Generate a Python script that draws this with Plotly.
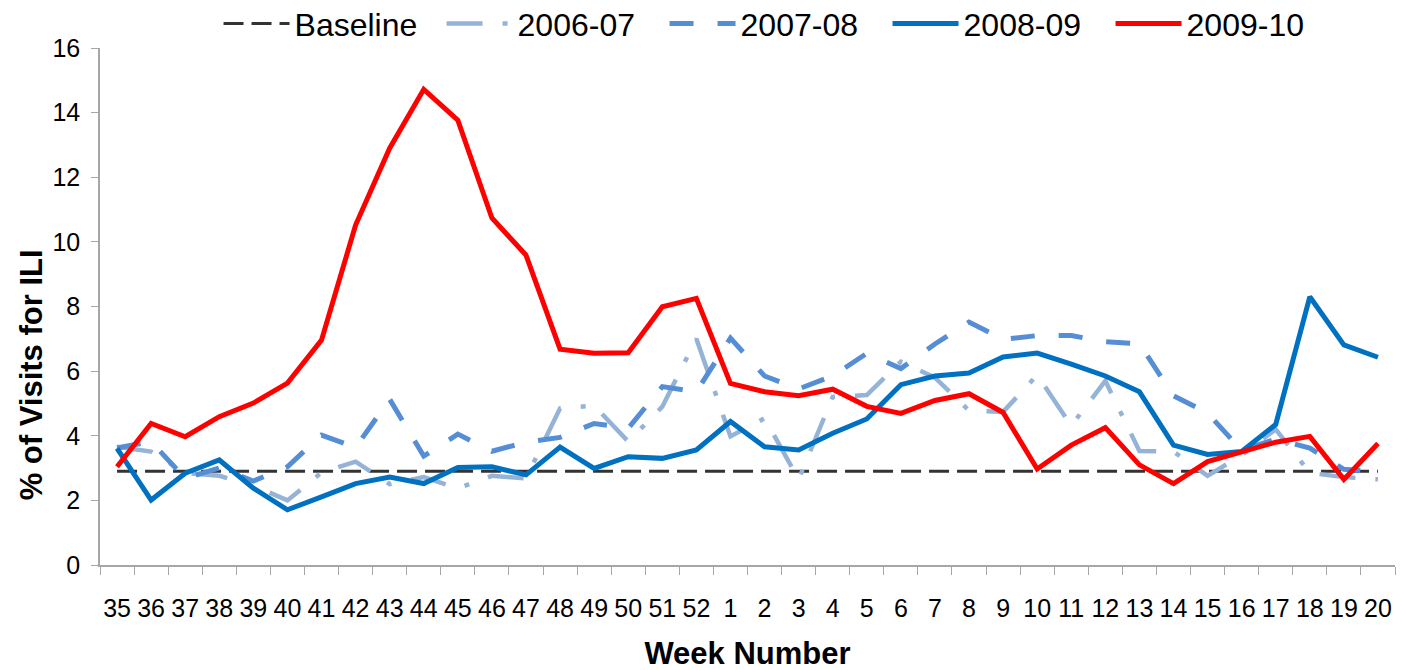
import plotly.graph_objects as go

weeks = [str(w) for w in list(range(35, 53)) + list(range(1, 21))]

baseline = [2.9] * len(weeks)

s2006_07 = [3.66, 3.51, 2.85, 2.76, 2.46, 2.00, 2.86, 3.20, 2.50, 2.72, 2.37, 2.76, 2.68,
            4.85, 4.93, 3.82, 4.90, 7.00, 3.98, 4.54, 2.65, 5.20, 5.26, 6.29, 5.80, 4.78,
            4.74, 5.88, 4.31, 5.70, 3.53, 3.51, 2.76, 3.40, 4.20, 2.85, 2.72, 2.65]

s2007_08 = [3.62, 3.82, 2.68, 3.00, 2.60, 3.04, 4.02, 3.64, 5.13, 3.37, 4.05, 3.52, 3.80,
            3.95, 4.38, 4.23, 5.52, 5.36, 7.02, 5.85, 5.45, 5.85, 6.55, 6.08, 6.84, 7.52,
            6.98, 7.10, 7.10, 6.91, 6.85, 5.24, 4.70, 3.55, 3.90, 3.62, 2.96, 2.88]

s2008_09 = [3.61, 2.01, 2.84, 3.25, 2.38, 1.71, 2.11, 2.52, 2.72, 2.52, 3.02, 3.04, 2.79,
            3.65, 2.99, 3.35, 3.30, 3.56, 4.44, 3.66, 3.56, 4.08, 4.52, 5.58, 5.85, 5.94,
            6.44, 6.56, 6.22, 5.85, 5.36, 3.71, 3.42, 3.51, 4.35, 8.30, 6.81, 6.43]

s2009_10 = [3.04, 4.38, 3.97, 4.59, 5.01, 5.63, 6.96, 10.52, 12.90, 14.72, 13.77, 10.74, 9.59,
            6.68, 6.55, 6.57, 7.99, 8.25, 5.62, 5.36, 5.24, 5.44, 4.91, 4.69, 5.09, 5.30,
            4.72, 2.97, 3.71, 4.25, 3.10, 2.52, 3.20, 3.51, 3.80, 3.98, 2.65, 3.76]

y_ticks = [0, 2, 4, 6, 8, 10, 12, 14, 16]

FONT = "Liberation Sans, Arial, sans-serif"

fig = go.Figure()
fig.add_trace(go.Scatter(x=weeks, y=baseline, name="Baseline", mode="lines",
                         line=dict(color="#333333", width=3, dash="20px,8px")))
fig.add_trace(go.Scatter(x=weeks, y=s2006_07, name="2006-07", mode="lines",
                         line=dict(color="#95B3D7", width=4.5, dash="36px,20px,5px,20px")))
fig.add_trace(go.Scatter(x=weeks, y=s2007_08, name="2007-08", mode="lines",
                         line=dict(color="#558ED5", width=5, dash="24px,24px")))
fig.add_trace(go.Scatter(x=weeks, y=s2008_09, name="2008-09", mode="lines",
                         line=dict(color="#0070C0", width=5)))
fig.add_trace(go.Scatter(x=weeks, y=s2009_10, name="2009-10", mode="lines",
                         line=dict(color="#FF0000", width=5)))

fig.update_layout(
    width=1413, height=670,
    margin=dict(l=92, r=26, t=40, b=113, autoexpand=False),
    paper_bgcolor="white", plot_bgcolor="white",
    font=dict(family=FONT, color="black"),
    showlegend=True,
    legend=dict(orientation="h", xref="container", yref="paper",
                x=0.149, y=1.10, xanchor="left", yanchor="top",
                font=dict(size=32, family=FONT, color="black"),
                itemwidth=66, entrywidth=142, entrywidthmode="pixels",
                bgcolor="rgba(0,0,0,0)", traceorder="normal"),
    xaxis=dict(type="category", range=[-0.5, len(weeks) - 0.5],
               showline=True, linecolor="#A6A6A6", linewidth=1.5,
               ticks="outside", tickson="boundaries", ticklen=8, tickcolor="#A6A6A6",
               tickangle=0,
               tickfont=dict(size=25, family=FONT, color="black"),
               ticklabelstandoff=20,
               showgrid=False, zeroline=False,
               title=dict(text="<b>Week Number</b>", font=dict(size=31, family=FONT, color="black"),
                          standoff=22)),
    yaxis=dict(range=[0, 16], tickvals=y_ticks,
               showline=True, linecolor="#A6A6A6", linewidth=1.5,
               ticks="outside", ticklen=7, tickcolor="#A6A6A6",
               tickfont=dict(size=25, family=FONT, color="black"),
               ticklabelstandoff=6,
               showgrid=False, zeroline=False),
    annotations=[dict(text="<b>% of Visits for ILI</b>", textangle=-90,
                      xref="paper", yref="paper", x=-0.053, y=0.3675,
                      xanchor="center", yanchor="middle", showarrow=False,
                      font=dict(size=31, family=FONT, color="black"))],
)

fig.write_html("out.html")
